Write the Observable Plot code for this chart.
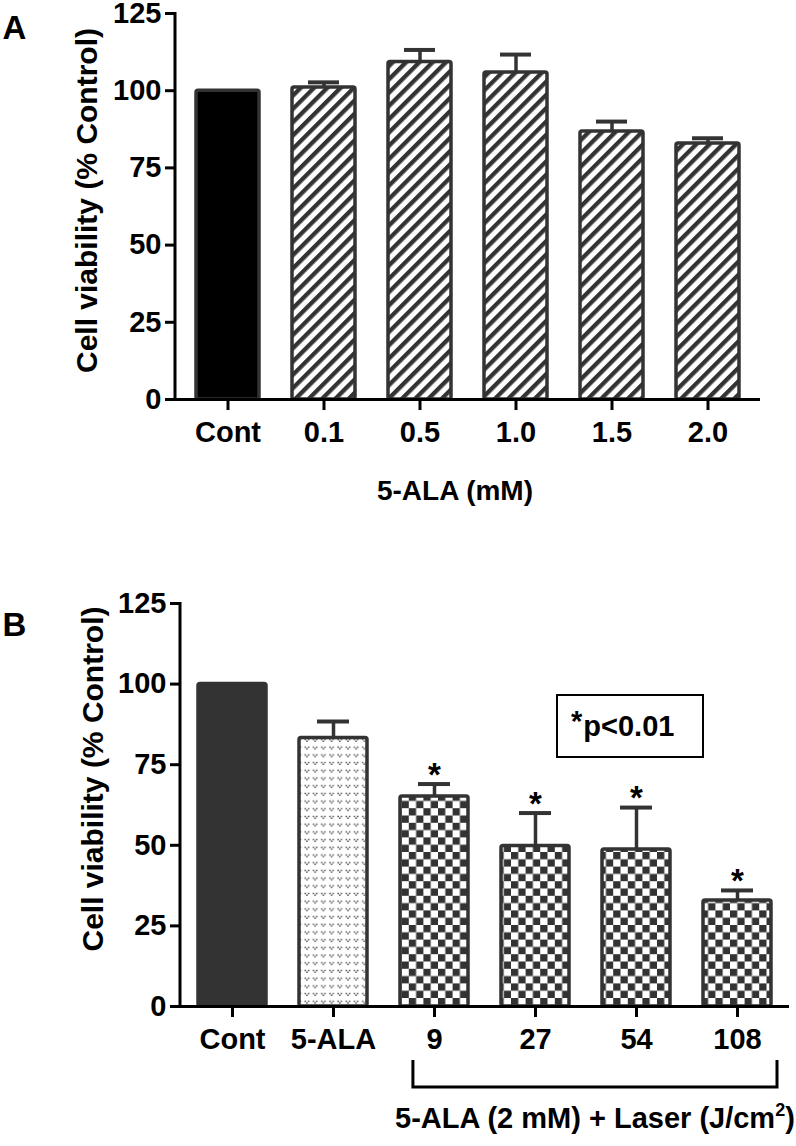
<!DOCTYPE html>
<html><head><meta charset="utf-8">
<script src="https://cdn.jsdelivr.net/npm/d3@7"></script>
<script src="https://cdn.jsdelivr.net/npm/@observablehq/plot@0.6"></script>
<style>
html,body{margin:0;padding:0;background:#fff;}
#chart{width:796px;height:1146px;overflow:hidden;background:#fff}
#chart svg{display:block;}
</style></head><body><div id="chart"></div>
<script>
// ---------- data ----------
const catsA = ["Cont", "0.1", "0.5", "1.0", "1.5", "2.0"];
const meanA = [100, 101, 109.3, 105.9, 86.8, 82.9];
const errA  = [0, 1.7, 3.9, 5.8, 3.2, 1.7];

const catsB = ["Cont", "5-ALA", "9", "27", "54", "108"];
const meanB = [100, 83.3, 65.1, 49.8, 48.7, 32.9];
const errB  = [0, 5.1, 3.9, 10.2, 13.0, 3.1];
const sigB  = [false, false, true, true, true, true];
const laserCats = ["9", "27", "54", "108"];

const yTicks = [0, 25, 50, 75, 100, 125];
const yTitle = "Cell viability (% Control)";
const xTitleA = "5-ALA (mM)";
const xTitleB = "5-ALA (2 mM) + Laser (J/cm";
const legendText = "p<0.01";

const dataA = catsA.map((k, i) => ({k, v: meanA[i], e: errA[i]}));
const dataB = catsB.map((k, i) => ({k, v: meanB[i], e: errB[i], sig: sigB[i]}));

const FONT = "'Liberation Sans', Arial, Helvetica, sans-serif";
const DARK = "#333";

function defsMark(html) {
  return () => {
    const g = d3.create("svg:g");
    g.html(html);
    return g.node();
  };
}

function yAxisLine(index, scales, values, dims) {
  const y = scales.y;
  return d3.create("svg:line")
    .attr("x1", dims.marginLeft).attr("x2", dims.marginLeft)
    .attr("y1", y(d3.max(yTicks)) - 1).attr("y2", y(0) + 1.5)
    .attr("stroke", "#000").attr("stroke-width", 3).node();
}

function commonMarks(data, inset, letter, letterDx, letterDy, ylabDx, ylabDy) {
  return [
    Plot.ruleX(data.filter(d => d.e > 0), {x: "k", y1: "v", y2: d => d.v + d.e, stroke: DARK, strokeWidth: 3.5}),
    Plot.tickY(data.filter(d => d.e > 0), {x: "k", y: d => d.v + d.e, stroke: DARK, strokeWidth: 4, insetLeft: inset, insetRight: inset}),
    Plot.ruleY([0], {stroke: "#000", strokeWidth: 3}),
    yAxisLine,
    Plot.axisY({ticks: yTicks, tickSize: 10, tickPadding: 4, fontSize: 29, fontWeight: "bold", strokeWidth: 3, stroke: "#000", label: null, tickFormat: d => String(d)}),
    Plot.axisX({tickSize: 11, tickPadding: 11, fontSize: 29, fontWeight: "bold", strokeWidth: 3, stroke: "#000", label: null}),
    Plot.text([yTitle], {text: d => d, frameAnchor: "left", textAnchor: "middle", rotate: -90, dx: ylabDx, dy: ylabDy, fontSize: 30, fontWeight: "bold", fill: "#000", lineAnchor: "middle"}),
    Plot.text([letter], {text: d => d, frameAnchor: "top-left", dx: letterDx, dy: letterDy, textAnchor: "start", lineAnchor: "top", fontSize: 33, fontWeight: "bold", fill: "#000"})
  ];
}

// ---------- Panel A ----------
const plotA = Plot.plot({
  width: 796, height: 560,
  marginLeft: 175, marginRight: 36, marginTop: 13, marginBottom: 161,
  style: {fontFamily: FONT, fontWeight: "bold", fontSize: "29px", color: "#000", background: "#fff", overflow: "visible"},
  x: {domain: catsA, paddingInner: 0.34, paddingOuter: 0.186, axis: null},
  y: {domain: [0, 125], axis: null},
  marks: [
    defsMark(`<defs><pattern id="pStripe" patternUnits="userSpaceOnUse" width="9.4" height="9.4" patternTransform="rotate(45)"><rect width="9.4" height="9.4" fill="#fff"/><rect width="4.3" height="9.4" fill="${DARK}"/></pattern></defs>`),
    Plot.barY(dataA.filter(d => d.k === catsA[0]), {x: "k", y: "v", fill: "#000", stroke: DARK, strokeWidth: 3.5, rx: 2}),
    Plot.barY(dataA.filter(d => d.k !== catsA[0]), {x: "k", y: "v", fill: "url(#pStripe)", stroke: DARK, strokeWidth: 3.5, rx: 2}),
    ...commonMarks(dataA, 16, "A", -173, 2, -88, -6),
    Plot.text([xTitleA], {text: d => d, frameAnchor: "bottom", dy: 92, dx: -13, fontSize: 28, fontWeight: "bold", lineAnchor: "middle", fill: "#000"})
  ]
});

// ---------- Panel B ----------
function bracketMark(index, scales, values, dims) {
  const x = scales.x;
  const bw = typeof x.bandwidth === "function" ? x.bandwidth() : scales.scales.x.bandwidth;
  const x0 = x(laserCats[0]) + bw * 0.19;
  const x1 = x(laserCats[laserCats.length - 1]) + bw + 6;
  const yb = dims.height - dims.marginBottom;
  const g = d3.create("svg:g");
  g.append("path")
    .attr("d", `M${x0},${yb + 54}V${yb + 81}H${x1}V${yb + 54}`)
    .attr("fill", "none").attr("stroke", "#000").attr("stroke-width", 3);
  const t = g.append("text")
    .attr("x", (x0 + x1) / 2).attr("y", yb + 122)
    .attr("text-anchor", "middle").attr("font-size", 29).attr("font-weight", "bold").attr("fill", "#000");
  t.append("tspan").text(xTitleB);
  t.append("tspan").attr("font-size", 18).attr("dy", -12).text("2");
  t.append("tspan").attr("dy", 12).text(")");
  return g.node();
}

function legendMark(index, scales, values, dims) {
  const right = dims.width - dims.marginRight;
  const bx0 = right - 232, bx1 = right - 86;
  const by0 = dims.marginTop + 92, by1 = dims.marginTop + 154;
  const g = d3.create("svg:g");
  g.append("rect").attr("x", bx0).attr("y", by0).attr("width", bx1 - bx0).attr("height", by1 - by0)
    .attr("fill", "#fff").attr("stroke", "#000").attr("stroke-width", 2);
  const t = g.append("text").attr("x", bx0 + 14).attr("y", by0 + 41)
    .attr("text-anchor", "start")
    .attr("font-size", 29).attr("font-weight", "bold").attr("fill", "#000");
  t.append("tspan").attr("dy", -5).text("*");
  t.append("tspan").attr("dy", 5).attr("dx", 1).text(legendText);
  return g.node();
}

const plotB = Plot.plot({
  width: 796, height: 586,
  marginLeft: 180, marginRight: 7, marginTop: 43, marginBottom: 140,
  style: {fontFamily: FONT, fontWeight: "bold", fontSize: "29px", color: "#000", background: "#fff", overflow: "visible"},
  x: {domain: catsB, paddingInner: 0.327, paddingOuter: 0.178, axis: null},
  y: {domain: [0, 125], axis: null},
  marks: [
    defsMark(`<defs>
      <pattern id="pDots" patternUnits="userSpaceOnUse" width="8.2" height="7.7"><rect width="8.2" height="7.7" fill="#fff"/><path d="M1.2,1.6h1.5v1.5h-1.5z M4.4,1.6h1.5v1.5h-1.5z M2.8,3.4h1.5v1.5h-1.5z" fill="#555"/></pattern>
      <pattern id="pChk" patternUnits="userSpaceOnUse" width="14.6" height="14.6"><rect width="14.6" height="14.6" fill="#fff"/><rect width="7.3" height="7.3" fill="${DARK}"/><rect x="7.3" y="7.3" width="7.3" height="7.3" fill="${DARK}"/></pattern>
    </defs>`),
    Plot.barY(dataB.filter(d => d.k === catsB[0]), {x: "k", y: "v", fill: DARK, stroke: DARK, strokeWidth: 3.5, rx: 2}),
    Plot.barY(dataB.filter(d => d.k === catsB[1]), {x: "k", y: "v", fill: "url(#pDots)", stroke: DARK, strokeWidth: 3.5, rx: 2}),
    Plot.barY(dataB.filter(d => laserCats.includes(d.k)), {x: "k", y: "v", fill: "url(#pChk)", stroke: DARK, strokeWidth: 3.5, rx: 2}),
    ...commonMarks(dataB, 18, "B", -178, 9, -87, -26),
    Plot.text(dataB.filter(d => d.sig), {x: "k", y: d => d.v + d.e, text: () => "*", dy: -9, fontSize: 33, fontWeight: "bold", lineAnchor: "middle", fill: "#000"}),
    legendMark,
    bracketMark
  ]
});

const root = document.getElementById("chart");
root.appendChild(plotA);
root.appendChild(plotB);
</script>
</body></html>
